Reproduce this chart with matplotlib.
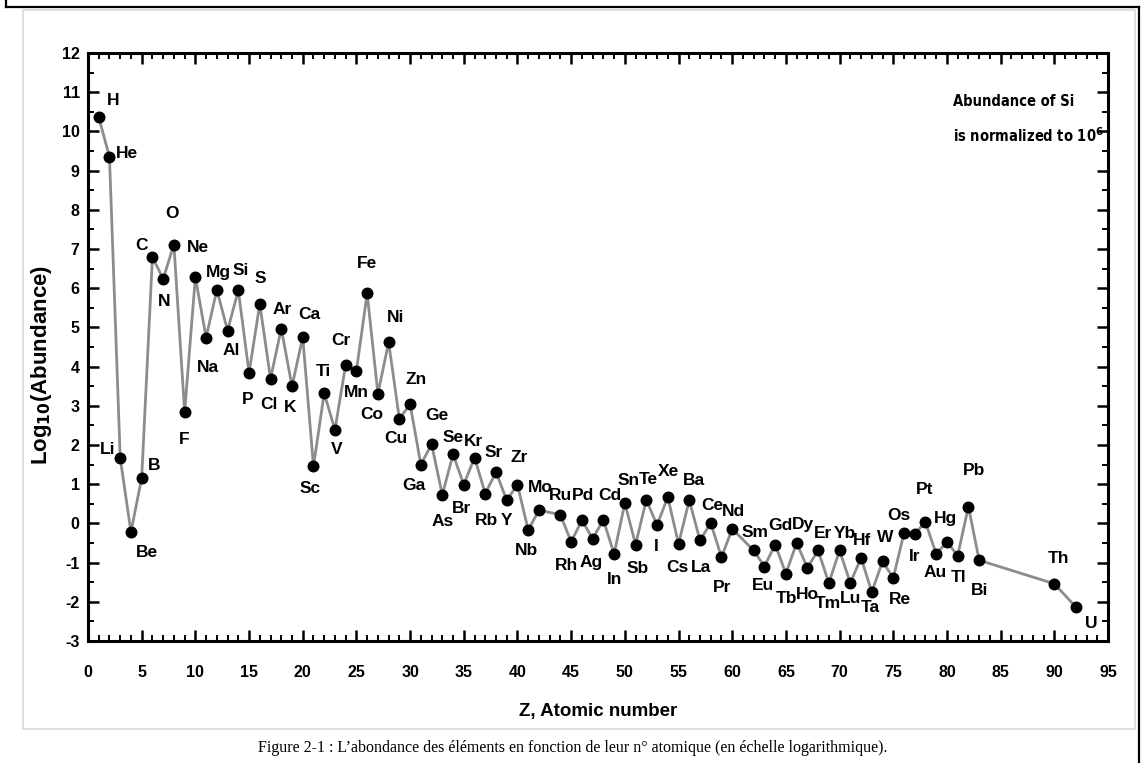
import matplotlib
matplotlib.use("Agg")
import matplotlib.pyplot as plt
from matplotlib.lines import Line2D
from matplotlib.patches import Rectangle
from matplotlib.ticker import MultipleLocator

plt.rcParams["axes.unicode_minus"] = False

# ---------------- data ----------------
symbols = ["H", "He", "Li", "Be", "B", "C", "N", "O", "F", "Ne", "Na", "Mg", "Al", "Si",
           "P", "S", "Cl", "Ar", "K", "Ca", "Sc", "Ti", "V", "Cr", "Mn", "Fe", "Co", "Ni",
           "Cu", "Zn", "Ga", "Ge", "As", "Se", "Br", "Kr", "Rb", "Sr", "Y", "Zr", "Nb",
           "Mo", "Ru", "Rh", "Pd", "Ag", "Cd", "In", "Sn", "Sb", "Te", "I", "Xe", "Cs",
           "Ba", "La", "Ce", "Pr", "Nd", "Sm", "Eu", "Gd", "Tb", "Dy", "Ho", "Er", "Tm",
           "Yb", "Lu", "Hf", "Ta", "W", "Re", "Os", "Ir", "Pt", "Au", "Hg", "Tl", "Pb",
           "Bi", "Th", "U"]
atomic_number = [1, 2, 3, 4, 5, 6, 7, 8, 9, 10, 11, 12, 13, 14,
                 15, 16, 17, 18, 19, 20, 21, 22, 23, 24, 25, 26, 27, 28,
                 29, 30, 31, 32, 33, 34, 35, 36, 37, 38, 39, 40, 41,
                 42, 44, 45, 46, 47, 48, 49, 50, 51, 52, 53, 54, 55,
                 56, 57, 58, 59, 60, 62, 63, 64, 65, 66, 67, 68, 69,
                 70, 71, 72, 73, 74, 75, 76, 77, 78, 79, 80, 81, 82,
                 83, 90, 92]
log_abundance = [10.36, 9.35, 1.67, -0.22, 1.16, 6.79, 6.24, 7.11, 2.84, 6.28, 4.74, 5.96, 4.92, 5.95,
                 3.84, 5.60, 3.69, 4.97, 3.50, 4.75, 1.46, 3.32, 2.39, 4.05, 3.90, 5.87, 3.31, 4.62,
                 2.67, 3.04, 1.50, 2.02, 0.73, 1.76, 0.99, 1.68, 0.76, 1.31, 0.59, 0.99, -0.17,
                 0.34, 0.22, -0.47, 0.08, -0.39, 0.09, -0.78, 0.52, -0.54, 0.60, -0.04, 0.67, -0.52,
                 0.59, -0.43, 0.01, -0.86, -0.14, -0.69, -1.10, -0.54, -1.28, -0.50, -1.13, -0.69, -1.52,
                 -0.69, -1.52, -0.88, -1.75, -0.97, -1.39, -0.25, -0.26, 0.03, -0.78, -0.47, -0.82, 0.43,
                 -0.94, -1.54, -2.13]

x_ticks = list(range(0, 96, 5))
y_ticks = list(range(-3, 13))
x_label = "Z, Atomic number"
y_label = r"Log$_{\mathbf{10}}$(Abundance)"
note_lines = ["Abundance of Si", r"is normalized to 10$^{\mathbf{6}}$"]
caption = "Figure 2-1 : L\u2019abondance des \u00e9l\u00e9ments en fonction de leur n\u00b0 atomique (en \u00e9chelle logarithmique)."

# label offsets (pixels, from point centre) : (dx, dy)
label_offsets = {
    "H": (14, 17), "He": (17, 3), "Li": (-13, 8), "Be": (16, -20), "B": (12, 12),
    "C": (-11, 12), "N": (1, -23), "O": (-2, 31), "F": (0, -27), "Ne": (3, 30),
    "Na": (2, -30), "Mg": (2, 17), "Al": (4, -20), "Si": (2, 20), "P": (-1, -27),
    "S": (1, 25), "Cl": (-2, -26), "Ar": (1, 19), "K": (-2, -21), "Ca": (7, 23),
    "Sc": (-3, -22), "Ti": (-1, 22), "V": (2, -20), "Cr": (-5, 24), "Mn": (0, -22),
    "Fe": (0, 30), "Co": (-6, -21), "Ni": (7, 25), "Cu": (-3, -20), "Zn": (6, 25),
    "Ga": (-7, -21), "Ge": (5, 29), "As": (0, -27), "Se": (0, 17), "Br": (-2, -24),
    "Kr": (-1, 16), "Rb": (1, -27), "Sr": (-2, 20), "Y": (0, -20), "Zr": (2, 27),
    "Nb": (-2, -20), "Mo": (1, 23), "Ru": (0, 19), "Rh": (-5, -24), "Pd": (1, 25),
    "Ag": (-1, -24), "Cd": (6, 24), "In": (0, -26), "Sn": (4, 23), "Sb": (2, -24),
    "Te": (2, 20), "I": (-1, -22), "Xe": (1, 26), "Cs": (-1, -24), "Ba": (5, 20),
    "La": (1, -27), "Ce": (2, 18), "Pr": (1, -30), "Nd": (1, 17), "Sm": (1, 18),
    "Eu": (-1, -19), "Gd": (5, 19), "Tb": (1, -25), "Dy": (6, 18), "Ho": (0, -27),
    "Er": (5, 17), "Tm": (-1, -21), "Yb": (5, 17), "Lu": (0, -16), "Hf": (1, 17),
    "Ta": (-1, -15), "W": (3, 24), "Re": (7, -22), "Os": (-5, 18), "Ir": (0, -23),
    "Pt": (-1, 33), "Au": (-1, -19), "Hg": (-1, 23), "Tl": (1, -22), "Pb": (6, 36),
    "Bi": (0, -30), "Th": (4, 25), "U": (15, -17),
}

# ---------------- figure ----------------
W, H = 1144, 763
fig = plt.figure(figsize=(W / 100, H / 100), dpi=100)
fig.patch.set_facecolor("white")

LAB_FONT = ["Liberation Sans", "DejaVu Sans"]

# frames
fig.add_artist(Rectangle((23 / W, 1 - 729 / H), (1135 - 23) / W, (729 - 10) / H,
                         transform=fig.transFigure, fill=False, edgecolor="#d9d9d9", lw=1.2))
for xs, ys in [((6, 6), (0, 7)), ((6, 1139), (7, 7)), ((1139, 1139), (7, 763))]:
    fig.add_artist(Line2D([x / W for x in xs], [1 - y / H for y in ys],
                          transform=fig.transFigure, color="black", lw=1.6))

ax = fig.add_axes([88 / W, 1 - 641 / H, (1108 - 88) / W, (641 - 53) / H])
ax.set_xlim(0, 95)
ax.set_ylim(-3, 12)

ax.plot(atomic_number, log_abundance, color="#8c8c8c", lw=2.0, zorder=2)
ax.plot(atomic_number, log_abundance, "o", color="black", ms=7.6, zorder=3)

px_x = (1108 - 88) / 95.0
px_y = (641 - 53) / 15.0
for s, z, v in zip(symbols, atomic_number, log_abundance):
    dx, dy = label_offsets.get(s, (0, 20))
    ax.text(z + dx / px_x, v + dy / px_y, s, ha="center", va="center",
            fontsize=12.5, fontweight="bold", family=LAB_FONT, color="black", zorder=4)

ax.set_xticks(x_ticks)
ax.set_yticks(y_ticks)
ax.xaxis.set_minor_locator(MultipleLocator(1))
ax.yaxis.set_minor_locator(MultipleLocator(0.5))
ax.tick_params(which="major", direction="in", length=8, width=1.8,
               top=True, right=True, labelsize=11.5)
ax.tick_params(axis="x", which="major", pad=17)
ax.tick_params(axis="y", which="major", pad=6)
ax.tick_params(which="minor", direction="in", length=4, width=1.4, top=True, right=True)
for lab in ax.get_xticklabels() + ax.get_yticklabels():
    lab.set_fontweight("bold")
    lab.set_family(LAB_FONT)
for sp in ax.spines.values():
    sp.set_linewidth(2.2)

ax.set_xlabel(x_label, fontsize=13.5, fontweight="bold", family=LAB_FONT, labelpad=17)
ax.set_ylabel(y_label, fontsize=16, fontweight="bold", family=LAB_FONT)
ax.yaxis.set_label_coords(-0.033, 0.47)

note_x = 80.6
ax.text(note_x, 10.75, note_lines[0], fontsize=10.5, fontweight="bold",
        family=["DejaVu Sans"], fontstretch="condensed", ha="left", va="center")
ax.text(note_x, 9.9, note_lines[1], fontsize=10.5, fontweight="bold",
        family=["DejaVu Sans"], fontstretch="condensed", ha="left", va="center")

fig.text(573 / W, 1 - 748 / H, caption, ha="center", va="center",
         fontsize=11.5, family=["Liberation Serif", "DejaVu Serif"])

fig.savefig("out.png", dpi=100)
